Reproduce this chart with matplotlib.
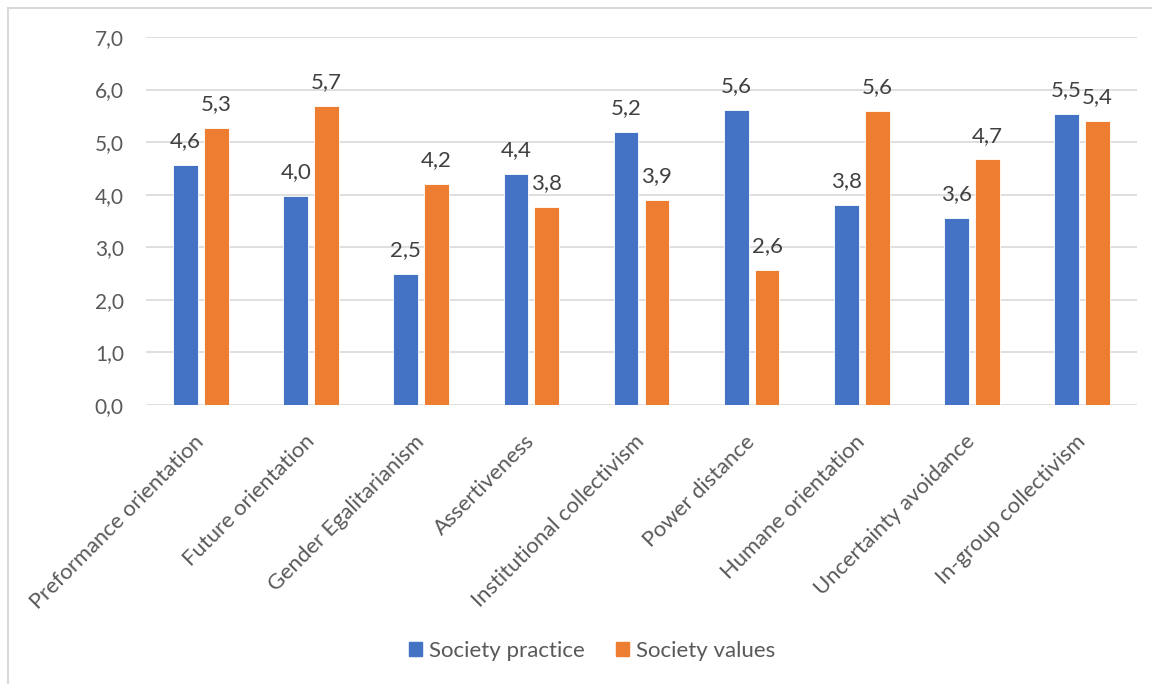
import numpy as np
import matplotlib
matplotlib.use("Agg")
import matplotlib.pyplot as plt
from matplotlib.lines import Line2D
from matplotlib.patches import Patch
from matplotlib.transforms import ScaledTranslation

plt.rcParams["font.family"] = ["Lato", "DejaVu Sans"]

# GLOBE dimensions, society practice vs. society values
dimensions = [
    "Preformance orientation",
    "Future orientation",
    "Gender Egalitarianism",
    "Assertiveness",
    "Institutional collectivism",
    "Power distance",
    "Humane orientation",
    "Uncertainty avoidance",
    "In-group collectivism",
]
practice = [4.56, 3.97, 2.50, 4.40, 5.19, 5.61, 3.81, 3.56, 5.54]
values = [5.26, 5.68, 4.21, 3.76, 3.90, 2.56, 5.60, 4.67, 5.41]
y_ticks = [0, 1, 2, 3, 4, 5, 6, 7]

blue = "#4472C4"
orange = "#ED7D31"
grey_text = "#595959"


def comma(v):
    return f"{v:.1f}".replace(".", ",")


fig = plt.figure(figsize=(11.52, 6.84), dpi=100)
ax = fig.add_axes([146 / 1152, 1 - 405 / 684, (1137 - 146) / 1152, (405 - 37) / 684])

x = np.arange(len(dimensions))
w = 0.225
off = 0.14
b1 = ax.bar(x - off, practice, w, color=blue, edgecolor="white", linewidth=0.6, zorder=3)
b2 = ax.bar(x + off, values, w, color=orange, edgecolor="white", linewidth=0.6, zorder=3)

for bars, vals in ((b1, practice), (b2, values)):
    for bar, v in zip(bars, vals):
        ax.annotate(comma(v), (bar.get_x() + bar.get_width() / 2, v),
                    xytext=(0, 10), textcoords="offset points",
                    ha="center", va="bottom", fontsize=16, color="#404040")

ax.set_xlim(-0.5, len(dimensions) - 0.5)
ax.set_ylim(0, 7)
ax.set_yticks(y_ticks)
ax.set_yticklabels([comma(t) for t in y_ticks], fontsize=15, color=grey_text)
ax.tick_params(axis="y", length=0, pad=16)
ax.set_xticks(x)
ax.set_xticklabels(dimensions, rotation=45, ha="right", rotation_mode="anchor",
                   fontsize=15.8, color=grey_text)
ax.tick_params(axis="x", length=0, pad=19)
shift = ScaledTranslation(-7 / 100, 0, fig.dpi_scale_trans)
for lbl in ax.get_xticklabels():
    lbl.set_transform(lbl.get_transform() + shift)

ax.grid(axis="y", color="#D9D9D9", linewidth=1.2, zorder=0)
for s in ax.spines.values():
    s.set_visible(False)

handles = [Patch(color=blue), Patch(color=orange)]
fig.legend(handles, ["Society practice", "Society values"], loc="center",
           bbox_to_anchor=(592 / 1152, 1 - 651 / 684), ncol=2, frameon=False,
           fontsize=16, handlelength=0.6, handleheight=0.6, handletextpad=0.3,
           columnspacing=1.4, labelcolor=grey_text)

# chart area border (top and left edges)
fig.add_artist(Line2D([8 / 1152, 8 / 1152], [0, 1 - 8 / 684], color="#D9D9D9",
                      linewidth=1.5, transform=fig.transFigure))
fig.add_artist(Line2D([8 / 1152, 1], [1 - 8 / 684, 1 - 8 / 684], color="#D9D9D9",
                      linewidth=1.5, transform=fig.transFigure))

fig.savefig("out.png", dpi=100)
plt.close(fig)
